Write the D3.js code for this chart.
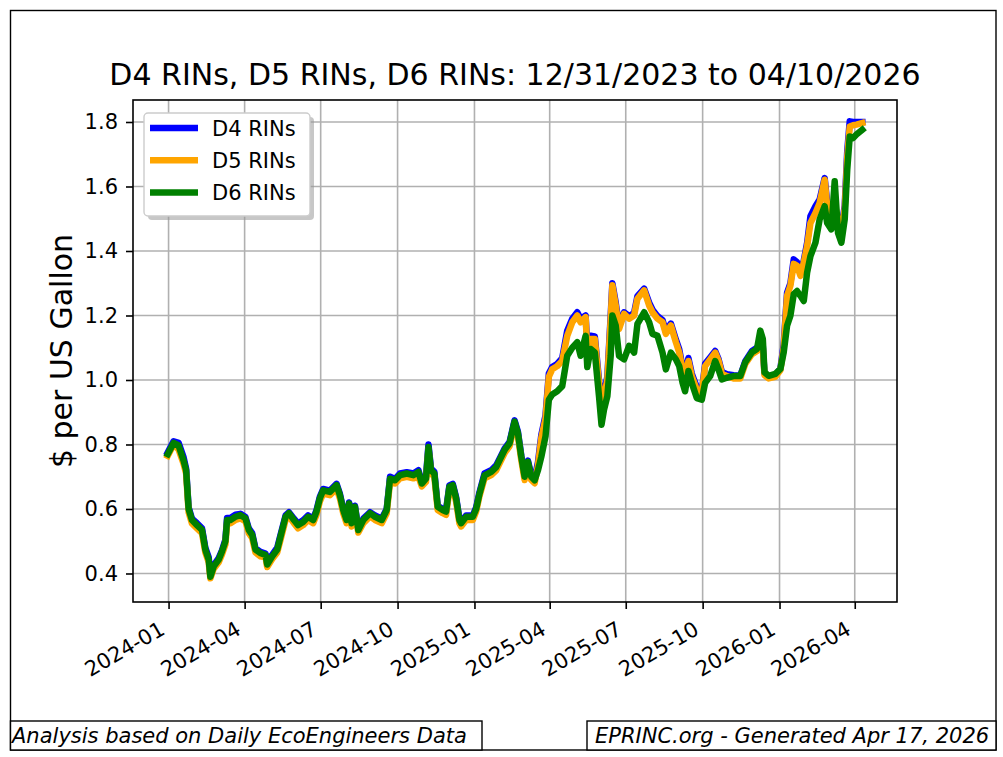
<!DOCTYPE html>
<html>
<head>
<meta charset="utf-8">
<script src="https://cdn.jsdelivr.net/npm/d3@7"></script>
<style>
  body { margin: 0; background: #fff; }
  svg { display: block; font-family: "DejaVu Sans", sans-serif; }
</style>
</head>
<body>
<div id="chart"></div>
<script>
// series, $ per US gallon
var dates = [
  "2023-12-31","2024-01-07","2024-01-13","2024-01-19","2024-01-22","2024-01-25","2024-01-29","2024-02-04",
  "2024-02-10","2024-02-14","2024-02-18","2024-02-20","2024-02-24","2024-03-01","2024-03-05","2024-03-09",
  "2024-03-11","2024-03-15","2024-03-21","2024-03-27","2024-04-02","2024-04-06","2024-04-10","2024-04-14",
  "2024-04-20","2024-04-26","2024-04-28","2024-05-04","2024-05-10","2024-05-14","2024-05-20","2024-05-24",
  "2024-05-30","2024-06-04","2024-06-10","2024-06-16","2024-06-22","2024-06-26","2024-06-30","2024-07-04",
  "2024-07-12","2024-07-20","2024-07-24","2024-07-28","2024-08-01","2024-08-04","2024-08-07","2024-08-11",
  "2024-08-15","2024-08-21","2024-08-29","2024-09-04","2024-09-12","2024-09-18","2024-09-22","2024-09-28",
  "2024-10-04","2024-10-12","2024-10-20","2024-10-26","2024-10-30","2024-11-04","2024-11-07","2024-11-10",
  "2024-11-14","2024-11-18","2024-11-24","2024-11-28","2024-12-02","2024-12-06","2024-12-10","2024-12-14",
  "2024-12-16","2024-12-22","2024-12-30","2025-01-03","2025-01-07","2025-01-13","2025-01-21","2025-01-27",
  "2025-02-02","2025-02-06","2025-02-12","2025-02-18","2025-02-22","2025-02-26","2025-03-02","2025-03-06",
  "2025-03-10","2025-03-14","2025-03-18","2025-03-22","2025-03-27","2025-03-31","2025-04-04","2025-04-10",
  "2025-04-16","2025-04-22","2025-04-28","2025-05-04","2025-05-08","2025-05-14","2025-05-16","2025-05-20",
  "2025-05-25","2025-05-30","2025-06-02","2025-06-05","2025-06-09","2025-06-13","2025-06-15","2025-06-19",
  "2025-06-23","2025-06-29","2025-07-05","2025-07-11","2025-07-15","2025-07-23","2025-07-29","2025-08-02",
  "2025-08-08","2025-08-14","2025-08-18","2025-08-24","2025-08-30","2025-09-03","2025-09-07","2025-09-10",
  "2025-09-14","2025-09-18","2025-09-24","2025-09-30","2025-10-04","2025-10-10","2025-10-16","2025-10-20",
  "2025-10-24","2025-10-30","2025-11-07","2025-11-15","2025-11-21","2025-11-29","2025-12-05","2025-12-09",
  "2025-12-12","2025-12-14","2025-12-19","2025-12-27","2026-01-02","2026-01-06","2026-01-10","2026-01-14",
  "2026-01-18","2026-01-22","2026-01-26","2026-01-30","2026-02-03","2026-02-07","2026-02-13","2026-02-18",
  "2026-02-24","2026-02-27","2026-03-04","2026-03-08","2026-03-12","2026-03-16","2026-03-20","2026-03-23",
  "2026-03-26","2026-03-30","2026-04-03","2026-04-10"
];

var d6 = [
  0.770,0.805,0.797,0.750,0.720,0.600,0.566,0.550,
  0.535,0.474,0.443,0.390,0.422,0.443,0.469,0.500,
  0.566,0.566,0.576,0.581,0.571,0.535,0.520,0.474,
  0.463,0.458,0.428,0.453,0.474,0.515,0.576,0.587,
  0.566,0.550,0.560,0.576,0.566,0.592,0.633,0.658,
  0.653,0.674,0.643,0.597,0.566,0.617,0.556,0.607,
  0.535,0.566,0.587,0.576,0.566,0.597,0.694,0.689,
  0.705,0.710,0.705,0.715,0.679,0.694,0.792,0.720,
  0.710,0.607,0.597,0.592,0.669,0.674,0.633,0.566,
  0.556,0.576,0.576,0.600,0.647,0.704,0.715,0.730,
  0.762,0.783,0.804,0.871,0.835,0.762,0.700,0.746,
  0.700,0.689,0.720,0.762,0.825,0.939,0.955,0.965,
  0.981,1.075,1.100,1.117,1.075,1.137,1.040,1.096,
  1.085,0.950,0.861,0.908,0.950,1.075,1.200,1.169,
  1.075,1.064,1.106,1.085,1.174,1.210,1.179,1.143,
  1.137,1.085,1.033,1.085,1.064,1.043,0.991,0.965,
  1.028,0.991,0.944,0.939,0.991,1.012,1.059,1.033,
  1.002,1.007,1.012,1.012,1.055,1.086,1.096,1.153,
  1.127,1.024,1.013,1.019,1.034,1.086,1.168,1.199,
  1.266,1.276,1.261,1.245,1.333,1.384,1.426,1.498,
  1.539,1.487,1.467,1.616,1.456,1.426,1.498,1.652,
  1.755,1.750,1.761,1.776
];

var d5 = [
  0.765,0.800,0.785,0.740,0.710,0.590,0.555,0.540,
  0.525,0.465,0.435,0.385,0.415,0.435,0.460,0.490,
  0.555,0.556,0.566,0.571,0.562,0.525,0.510,0.465,
  0.453,0.450,0.420,0.445,0.465,0.505,0.566,0.578,
  0.556,0.540,0.550,0.566,0.556,0.582,0.623,0.648,
  0.643,0.664,0.633,0.587,0.556,0.607,0.546,0.597,
  0.527,0.556,0.577,0.566,0.556,0.587,0.684,0.679,
  0.695,0.700,0.695,0.700,0.670,0.684,0.785,0.710,
  0.700,0.597,0.587,0.582,0.659,0.664,0.623,0.556,
  0.546,0.566,0.566,0.592,0.640,0.695,0.705,0.720,
  0.752,0.773,0.795,0.862,0.826,0.752,0.690,0.736,
  0.690,0.680,0.735,0.820,0.880,1.010,1.033,1.043,
  1.059,1.137,1.179,1.200,1.179,1.195,1.090,1.127,
  1.127,0.990,0.915,0.950,1.000,1.190,1.294,1.231,
  1.158,1.205,1.190,1.200,1.252,1.278,1.231,1.210,
  1.190,1.179,1.143,1.169,1.117,1.085,1.033,1.002,
  1.059,1.012,0.970,0.960,1.043,1.064,1.085,1.060,
  1.020,1.012,1.005,1.005,1.050,1.080,1.090,1.110,
  1.100,1.015,1.005,1.010,1.030,1.100,1.261,1.292,
  1.360,1.354,1.323,1.364,1.415,1.487,1.518,1.549,
  1.621,1.539,1.520,1.550,1.490,1.460,1.530,1.690,
  1.786,1.790,1.792,1.797
];

var d4 = [
  0.775,0.810,0.805,0.760,0.725,0.605,0.570,0.556,
  0.540,0.480,0.450,0.395,0.425,0.448,0.472,0.505,
  0.572,0.572,0.582,0.585,0.575,0.540,0.525,0.478,
  0.467,0.462,0.432,0.458,0.480,0.520,0.580,0.590,
  0.570,0.555,0.565,0.580,0.570,0.596,0.638,0.662,
  0.657,0.678,0.647,0.600,0.570,0.620,0.560,0.610,
  0.540,0.570,0.590,0.580,0.570,0.600,0.700,0.693,
  0.710,0.714,0.710,0.720,0.683,0.700,0.800,0.725,
  0.715,0.610,0.600,0.596,0.673,0.678,0.637,0.570,
  0.560,0.580,0.580,0.605,0.652,0.710,0.720,0.735,
  0.766,0.787,0.808,0.875,0.840,0.766,0.705,0.750,
  0.705,0.695,0.745,0.830,0.890,1.020,1.040,1.050,
  1.068,1.153,1.190,1.210,1.190,1.200,1.100,1.137,
  1.135,1.000,0.925,0.960,1.010,1.200,1.300,1.240,
  1.165,1.210,1.198,1.208,1.260,1.283,1.240,1.218,
  1.198,1.186,1.150,1.175,1.125,1.095,1.040,1.010,
  1.068,1.020,0.978,0.965,1.050,1.070,1.090,1.065,
  1.025,1.018,1.015,1.013,1.058,1.090,1.100,1.105,
  1.105,1.020,1.010,1.015,1.035,1.110,1.270,1.300,
  1.374,1.365,1.330,1.370,1.425,1.508,1.539,1.560,
  1.626,1.550,1.530,1.530,1.500,1.470,1.540,1.709,
  1.802,1.800,1.800,1.800
];

var seriesNames = ["D4 RINs", "D5 RINs", "D6 RINs"];
var seriesColors = ["blue", "orange", "green"];
var yTicks = [0.4, 0.6, 0.8, 1.0, 1.2, 1.4, 1.6, 1.8];
var xTicks = ["2024-01-01","2024-04-01","2024-07-01","2024-10-01","2025-01-01",
              "2025-04-01","2025-07-01","2025-10-01","2026-01-01","2026-04-01"];

var chartTitle = "D4 RINs, D5 RINs, D6 RINs: 12/31/2023 to 04/10/2026";
var yLabel = "$ per US Gallon";
var footLeft = "Analysis based on Daily EcoEngineers Data";
var footRight = "EPRINC.org - Generated Apr 17, 2026";

var W = 1003, H = 757;
var plot = { left: 133, right: 897, top: 100, bottom: 602 };

var parse = d3.timeParse("%Y-%m-%d");
var fmt = d3.timeFormat("%Y-%m");
var dts = dates.map(parse);

var svg = d3.select("#chart").append("svg").attr("width", W).attr("height", H);

// figure frame
svg.append("rect").attr("x", 10.5).attr("y", 10.5).attr("width", 985.5).attr("height", 739.5)
    .attr("fill", "#fff").attr("stroke", "#000").attr("stroke-width", 1.4);

// x domain padded 5% like matplotlib
var t0 = dts[0].getTime(), t1 = dts[dts.length - 1].getTime();
var pad = (t1 - t0) * 0.05;
var x = d3.scaleTime().domain([new Date(t0 - pad), new Date(t1 + pad)]).range([plot.left, plot.right]);
var y = d3.scaleLinear().domain([0.3116, 1.8682]).range([plot.bottom, plot.top]);

var tickDates = xTicks.map(parse);

// grid
var grid = svg.append("g").attr("stroke", "#b0b0b0").attr("stroke-width", 1.6);
grid.selectAll(".gx").data(tickDates).enter().append("line")
    .attr("x1", function (d) { return x(d); }).attr("x2", function (d) { return x(d); })
    .attr("y1", plot.top).attr("y2", plot.bottom);
grid.selectAll(".gy").data(yTicks).enter().append("line")
    .attr("x1", plot.left).attr("x2", plot.right)
    .attr("y1", function (d) { return y(d); }).attr("y2", function (d) { return y(d); });

// series
var allSeries = [d4, d5, d6];
var line = d3.line()
    .x(function (d, i) { return x(dts[i]); })
    .y(function (d) { return y(d); });

svg.append("g").selectAll("path").data(allSeries).enter().append("path")
    .attr("d", line)
    .attr("fill", "none")
    .attr("stroke", function (d, i) { return seriesColors[i]; })
    .attr("stroke-width", 6.5)
    .attr("stroke-linejoin", "round")
    .attr("stroke-linecap", "square");

// axes
var xAxis = svg.append("g").attr("transform", "translate(0," + plot.bottom + ")")
    .call(d3.axisBottom(x).tickValues(tickDates).tickFormat(fmt).tickSize(7).tickPadding(0));
xAxis.attr("font-family", null);
xAxis.select(".domain").remove();
xAxis.selectAll(".tick line").attr("stroke", "#000").attr("stroke-width", 1.6);
xAxis.selectAll(".tick text")
    .attr("font-size", 21).attr("fill", "#000")
    .attr("text-anchor", "end")
    .attr("y", 0).attr("dy", "0.73em")
    .attr("transform", "translate(-10.5,18) rotate(-30)");

var yAxis = svg.append("g").attr("transform", "translate(" + plot.left + ",0)")
    .call(d3.axisLeft(y).tickValues(yTicks).tickFormat(d3.format(".1f")).tickSize(7).tickPadding(8));
yAxis.attr("font-family", null);
yAxis.select(".domain").remove();
yAxis.selectAll(".tick line").attr("stroke", "#000").attr("stroke-width", 1.6);
yAxis.selectAll(".tick text").attr("font-size", 21).attr("fill", "#000");

// spines
svg.append("rect").attr("x", plot.left).attr("y", plot.top)
    .attr("width", plot.right - plot.left).attr("height", plot.bottom - plot.top)
    .attr("fill", "none").attr("stroke", "#000").attr("stroke-width", 1.6);

// title and y label
svg.append("text").attr("x", (plot.left + plot.right) / 2).attr("y", 85)
    .attr("text-anchor", "middle").attr("font-size", 30).attr("fill", "#000").text(chartTitle);

svg.append("text").attr("transform", "translate(72," + ((plot.top + plot.bottom) / 2) + ") rotate(-90)")
    .attr("text-anchor", "middle").attr("font-size", 30).attr("fill", "#000").text(yLabel);

// legend
var lg = { x: 144, y: 113, w: 166, h: 103 };
svg.append("rect").attr("x", lg.x + 4).attr("y", lg.y + 4).attr("width", lg.w).attr("height", lg.h)
    .attr("rx", 4).attr("fill", "#999").attr("opacity", 0.55);
svg.append("rect").attr("x", lg.x).attr("y", lg.y).attr("width", lg.w).attr("height", lg.h)
    .attr("rx", 4).attr("fill", "#fff").attr("stroke", "#cccccc").attr("stroke-width", 1.4);

var items = svg.append("g").selectAll("g").data(seriesNames).enter().append("g")
    .attr("transform", function (d, i) { return "translate(" + (lg.x + 6) + "," + (lg.y + 15 + i * 32.3) + ")"; });
items.append("line").attr("x1", 0).attr("x2", 48).attr("y1", 0).attr("y2", 0)
    .attr("stroke", function (d, i) { return seriesColors[i]; }).attr("stroke-width", 6.5);
items.append("text").attr("x", 62).attr("y", 0).attr("dy", "0.36em")
    .attr("font-size", 21).attr("fill", "#000").text(function (d) { return d; });

// footers
svg.append("rect").attr("x", 10.5).attr("y", 721).attr("width", 471.5).attr("height", 29)
    .attr("fill", "#fff").attr("stroke", "#000").attr("stroke-width", 1.4);
svg.append("text").attr("x", 12).attr("y", 743).attr("font-size", 21).attr("font-style", "italic")
    .attr("fill", "#000").text(footLeft);

svg.append("rect").attr("x", 587).attr("y", 721).attr("width", 409).attr("height", 29)
    .attr("fill", "#fff").attr("stroke", "#000").attr("stroke-width", 1.4);
svg.append("text").attr("x", 595).attr("y", 743).attr("font-size", 21).attr("font-style", "italic")
    .attr("fill", "#000").text(footRight);
</script>
</body>
</html>
